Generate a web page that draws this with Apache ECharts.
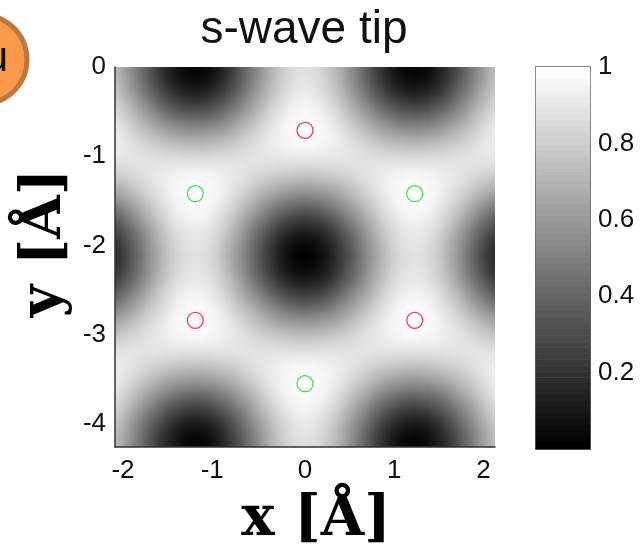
<!DOCTYPE html>
<html><head><meta charset="utf-8">
<style>html,body{margin:0;padding:0;background:#fff}#c{width:644px;height:555px}</style>
<script src="https://cdn.jsdelivr.net/npm/echarts@6/dist/echarts.min.js"></script>
</head><body><div id="c"></div>
<script>
const titleText = 's-wave tip';
const xTicks = [-2,-1,0,1,2];
const yTicks = [0,-1,-2,-3,-4];
const barTicks = [0.2,0.4,0.6,0.8,1];
const redRings = [[0,-0.71],[-1.23,-2.84],[1.23,-2.84]];
const greenRings = [[-1.23,-1.42],[1.23,-1.42],[0,-3.55]];
const brightnessRows = [
[79,68,54,39,25,13,5,1,2,8,19,32,47,61,74,83,88,88,83,74,61,47,32,19,8,2,1,5,13,25,39,54,68,79],
[79,68,54,39,25,13,5,1,2,8,19,32,47,61,74,83,88,88,83,74,61,47,32,19,8,2,1,5,13,25,39,54,68,79],
[81,71,57,43,29,17,9,6,7,13,23,36,50,64,76,85,90,90,85,76,64,50,36,23,13,7,6,9,17,29,43,57,71,81],
[85,75,63,49,37,26,19,15,16,22,31,43,56,69,80,88,93,93,88,80,69,56,43,31,22,16,15,19,26,37,49,63,75,85],
[89,80,70,58,47,37,31,28,29,34,42,52,64,75,85,92,96,96,92,85,75,64,52,42,34,29,28,31,37,47,58,70,80,89],
[93,86,77,67,58,50,45,43,43,47,54,63,72,81,90,96,99,99,96,90,81,72,63,54,47,43,43,45,50,58,67,77,86,93],
[95,90,83,76,70,64,60,58,59,62,66,73,80,87,93,97,100,100,97,93,87,80,73,66,62,59,58,60,64,70,76,83,90,95],
[95,92,88,83,79,76,73,72,72,74,77,81,86,90,94,96,98,98,96,94,90,86,81,77,74,72,72,73,76,79,83,88,92,95],
[92,91,90,88,87,85,85,84,84,85,86,87,89,90,91,92,93,93,92,91,90,89,87,86,85,84,84,85,85,87,88,90,91,92],
[85,86,88,89,90,92,92,93,93,92,91,90,88,87,86,85,84,84,85,86,87,88,90,91,92,93,93,92,92,90,89,88,86,85],
[75,78,82,87,91,94,97,98,98,96,93,89,85,80,77,74,73,73,74,77,80,85,89,93,96,98,98,97,94,91,87,82,78,75],
[63,68,75,82,88,94,98,100,99,96,92,85,78,71,65,61,59,59,61,65,71,78,85,92,96,99,100,98,94,88,82,75,68,63],
[49,56,65,75,84,91,97,99,98,95,88,79,70,61,53,47,43,43,47,53,61,70,79,88,95,98,99,97,91,84,75,65,56,49],
[35,44,55,67,78,87,94,97,96,91,83,72,61,50,40,32,28,28,32,40,50,61,72,83,91,96,97,94,87,78,67,55,44,35],
[24,34,46,59,72,83,90,93,92,87,78,66,53,40,29,20,16,16,20,29,40,53,66,78,87,92,93,90,83,72,59,46,34,24],
[15,26,39,53,67,79,87,91,90,84,74,61,46,32,20,11,6,6,11,20,32,46,61,74,84,90,91,87,79,67,53,39,26,15],
[10,22,35,50,65,77,85,89,88,82,71,58,43,29,16,6,1,1,6,16,29,43,58,71,82,88,89,85,77,65,50,35,22,10],
[10,22,35,50,65,77,85,89,88,82,71,58,43,29,16,6,1,1,6,16,29,43,58,71,82,88,89,85,77,65,50,35,22,10],
[15,26,39,53,67,79,87,91,90,84,74,61,46,32,20,11,6,6,11,20,32,46,61,74,84,90,91,87,79,67,53,39,26,15],
[24,34,46,59,72,83,90,93,92,87,78,66,53,40,29,20,16,16,20,29,40,53,66,78,87,92,93,90,83,72,59,46,34,24],
[35,44,55,67,78,87,94,97,96,91,83,72,61,50,40,32,28,28,32,40,50,61,72,83,91,96,97,94,87,78,67,55,44,35],
[49,56,65,75,84,91,97,99,98,95,88,79,70,61,53,47,43,43,47,53,61,70,79,88,95,98,99,97,91,84,75,65,56,49],
[63,68,75,82,88,94,98,100,99,96,92,85,78,71,65,61,59,59,61,65,71,78,85,92,96,99,100,98,94,88,82,75,68,63],
[75,78,82,87,91,94,97,98,98,96,93,89,85,80,77,74,73,73,74,77,80,85,89,93,96,98,98,97,94,91,87,82,78,75],
[85,86,88,89,90,92,92,93,93,92,91,90,88,87,86,85,84,84,85,86,87,88,90,91,92,93,93,92,92,90,89,88,86,85],
[92,91,90,88,87,85,85,84,84,85,86,87,89,90,91,92,93,93,92,91,90,89,87,86,85,84,84,85,85,87,88,90,91,92],
[95,92,88,83,79,76,73,72,72,74,77,81,86,90,94,96,98,98,96,94,90,86,81,77,74,72,72,73,76,79,83,88,92,95],
[95,90,83,76,70,64,60,58,59,62,66,73,80,87,93,97,100,100,97,93,87,80,73,66,62,59,58,60,64,70,76,83,90,95],
[93,86,77,67,58,50,45,43,43,47,54,63,72,81,90,96,99,99,96,90,81,72,63,54,47,43,43,45,50,58,67,77,86,93],
[89,80,70,58,47,37,31,28,29,34,42,52,64,75,85,92,96,96,92,85,75,64,52,42,34,29,28,31,37,47,58,70,80,89],
[85,75,63,49,37,26,19,15,16,22,31,43,56,69,80,88,93,93,88,80,69,56,43,31,22,16,15,19,26,37,49,63,75,85],
[81,71,57,43,29,17,9,6,7,13,23,36,50,64,76,85,90,90,85,76,64,50,36,23,13,7,6,9,17,29,43,57,71,81],
[79,68,54,39,25,13,5,1,2,8,19,32,47,61,74,83,88,88,83,74,61,47,32,19,8,2,1,5,13,25,39,54,68,79],
[79,68,54,39,25,13,5,1,2,8,19,32,47,61,74,83,88,88,83,74,61,47,32,19,8,2,1,5,13,25,39,54,68,79]
];
const barLevels = [100,98.4,96.8,95.2,93.7,92.1,90.5,88.9,87.3,85.7,84.1,82.5,81,79.4,77.8,76.2,74.6,73,71.4,69.8,68.3,66.7,65.1,63.5,61.9,60.3,58.7,57.1,55.6,54,52.4,50.8,49.2,47.6,46,44.4,42.9,41.3,39.7,38.1,36.5,34.9,33.3,31.7,30.2,28.6,27,25.4,23.8,22.2,20.6,19,17.5,15.9,14.3,12.7,11.1,9.5,7.9,6.3,4.8,3.2,1.6,0];

const cols = brightnessRows[0].map((_, i) => String(i));
const rowsCat = brightnessRows.map((_, i) => String(i));
const cells = [];
brightnessRows.forEach((r, y) => r.forEach((v, x) => cells.push([x, y, v])));
const barCells = barLevels.map((v, y) => [0, y, v]);

const tickFont = {color:'#111', fontFamily:'"Liberation Sans"', fontSize:26};
const frame = {show:true, onZero:false, lineStyle:{color:'#333', width:1.5}};
const axisNameFont = 'bold 56px "DejaVu Serif"';

const chart = echarts.init(document.getElementById('c'), null, {renderer:'canvas'});
chart.setOption({
  animation:false,
  backgroundColor:'transparent',
  title:{text:titleText, left:299, top:2, textAlign:'center',
    textStyle:{fontFamily:'"Liberation Sans"', fontWeight:'normal', fontSize:46, color:'#111'}},
  grid:[
    {left:115, top:67, width:380, height:380},
    {left:536, top:67, width:54, height:382},
    {left:103.125, top:55.125, width:403.75, height:403.75}
  ],
  visualMap:{show:false, min:0, max:100, seriesIndex:[0,1], inRange:{color:['#000000','#ffffff']}},
  xAxis:[
    {type:'category', gridIndex:2, data:cols, show:false},
    {type:'value', gridIndex:0, position:'bottom', min:-2.13, max:2.13,
      axisLine:frame, axisTick:{show:false}, splitLine:{show:false},
      axisLabel:{...tickFont, margin:11, customValues:xTicks, showMinLabel:true, showMaxLabel:true,
        formatter:v => v < 0 ? v + '\u00a0' : String(v)}},
    {type:'category', gridIndex:1, data:['a'], show:false},
    {type:'value', gridIndex:1, position:'bottom', min:0, max:1, axisLine:frame,
      axisTick:{show:false}, axisLabel:{show:false}, splitLine:{show:false}},
    {type:'value', gridIndex:1, position:'top', min:0, max:1, axisLine:frame,
      axisTick:{show:false}, axisLabel:{show:false}, splitLine:{show:false}}
  ],
  yAxis:[
    {type:'category', gridIndex:2, data:rowsCat, inverse:true, show:false},
    {type:'value', gridIndex:0, position:'left', min:-4.26, max:0,
      axisLine:frame, axisTick:{show:false}, splitLine:{show:false},
      axisLabel:{...tickFont, margin:9, customValues:yTicks, showMinLabel:true, showMaxLabel:true}},
    {type:'category', gridIndex:1, data:barLevels.map(String), inverse:true, show:false},
    {type:'value', gridIndex:1, position:'right', min:0, max:1, axisLine:frame,
      axisTick:{show:true, inside:true, length:4, lineStyle:{color:'#222'}, customValues:barTicks},
      splitLine:{show:false},
      axisLabel:{...tickFont, margin:8, customValues:barTicks, showMaxLabel:true}},
    {type:'value', gridIndex:1, position:'left', min:0, max:1, axisLine:frame,
      axisTick:{show:true, inside:true, length:4, lineStyle:{color:'#222'}, customValues:barTicks},
      splitLine:{show:false}, axisLabel:{show:false}}
  ],
  series:[
    {type:'heatmap', xAxisIndex:0, yAxisIndex:0, data:cells, silent:true, progressive:0, zlevel:-1, itemStyle:{borderWidth:0}},
    {type:'heatmap', xAxisIndex:2, yAxisIndex:2, data:barCells, silent:true, progressive:0},
    {type:'scatter', xAxisIndex:1, yAxisIndex:1, data:redRings, symbol:'circle', symbolSize:16, silent:true, z:5,
      itemStyle:{color:'rgba(0,0,0,0)', borderColor:'#ff3344', borderWidth:1.2, opacity:1}},
    {type:'scatter', xAxisIndex:1, yAxisIndex:1, data:greenRings, symbol:'circle', symbolSize:16, silent:true, z:5,
      itemStyle:{color:'rgba(0,0,0,0)', borderColor:'#33e044', borderWidth:1.2, opacity:1}}
  ],
  graphic:[
    {type:'circle', shape:{cx:-17.5, cy:59.5, r:44.5}, style:{fill:'#fb9a4a', stroke:'#c07838', lineWidth:5}, silent:true},
    {type:'text', x:8, y:80, style:{text:'u', font:'42px "Liberation Sans"', fill:'#111', textAlign:'right', textVerticalAlign:'bottom'}, silent:true},
    {type:'text', x:316, y:520, style:{text:'x [Å]', font:axisNameFont, fill:'#000', textAlign:'center', textVerticalAlign:'middle'}, silent:true},
    {type:'text', x:45, y:243, rotation:Math.PI/2, style:{text:'y [Å]', font:axisNameFont, fill:'#000', textAlign:'center', textVerticalAlign:'middle'}, silent:true}
  ]
});
// The reference is shaded smoothly: soften the cell edges of the heatmap layer only, cropped to the plot box.
const heatLayer = chart.getZr().painter.getLayer(-1).dom;
heatLayer.style.filter = 'blur(6px)';
heatLayer.style.clipPath = 'inset(67px 149px 108px 115px)';
</script></body></html>
